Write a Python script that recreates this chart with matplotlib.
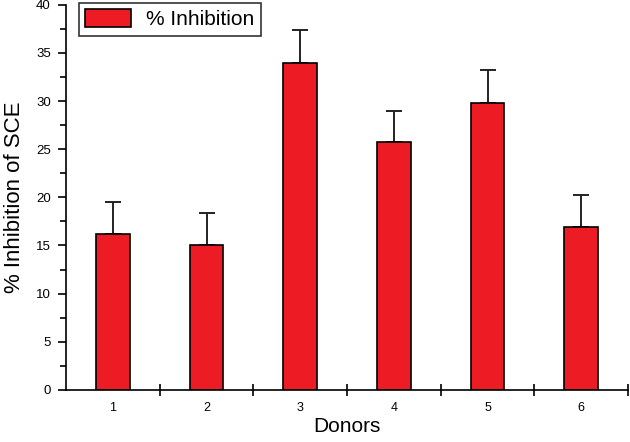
import matplotlib.pyplot as plt
import numpy as np

donors = ["1", "2", "3", "4", "5", "6"]
inhibition = [16.2, 15.0, 34.0, 25.8, 29.8, 16.9]
errors = [3.3, 3.4, 3.4, 3.2, 3.4, 3.3]

plt.rcParams["font.family"] = ["Liberation Sans", "DejaVu Sans"]

fig = plt.figure(figsize=(6.3, 4.42), dpi=100)
ax = fig.add_axes([0.105, 0.118, 0.892, 0.871])

x = np.arange(1, len(donors) + 1)
ax.bar(x, inhibition, width=0.36, color="#ed1c24", edgecolor="black",
       linewidth=1.2, label="% Inhibition", zorder=2)
ax.errorbar(x, inhibition, yerr=[np.zeros(len(errors)), errors], fmt="none",
            ecolor="#222222", elinewidth=1.4, capsize=6, capthick=1.4, zorder=1)

ax.set_xlim(0.5, 6.5)
ax.set_ylim(0, 40)
ax.set_xticks(x)
ax.set_xticklabels(donors, fontsize=9)
ax.set_xticks(np.arange(1.5, 7.0, 1.0), minor=True)
ax.tick_params(axis="x", which="major", length=0, pad=9)
ax.tick_params(axis="x", which="minor", direction="inout", length=8, width=1.2)
ax.set_yticks(np.arange(0, 41, 5))
ax.set_yticks(np.arange(0, 41, 2.5), minor=True)
ax.tick_params(axis="y", which="major", length=6, width=1.2, labelsize=9.5, pad=5)
ax.tick_params(axis="y", which="minor", length=4, width=1.2)

for s in ["top", "right"]:
    ax.spines[s].set_visible(False)
for s in ["left", "bottom"]:
    ax.spines[s].set_linewidth(1.2)

ax.set_xlabel("Donors", fontsize=15, labelpad=2)
ax.set_ylabel("% Inhibition of SCE", fontsize=16, labelpad=8)

leg = ax.legend(loc="upper left", bbox_to_anchor=(0.022, 1.005), fontsize=15,
                frameon=True, fancybox=False, edgecolor="black",
                handlelength=2.2, handleheight=0.95, handletextpad=0.75,
                borderpad=0.3, borderaxespad=0.0)
leg.get_frame().set_linewidth(1.2)

fig.savefig("out.png", dpi=100)
